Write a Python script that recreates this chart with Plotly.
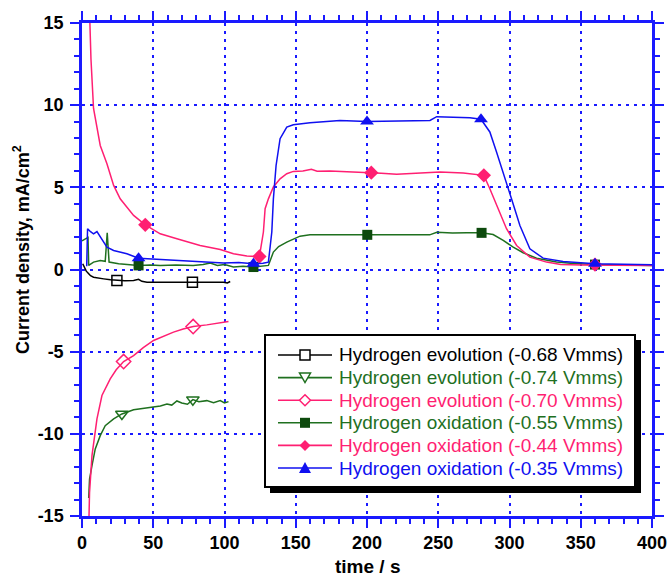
import plotly.graph_objects as go

# ---------------- data ----------------
black_t = [0.5, 1.5, 3, 4.7, 6, 8.1, 11, 15.2, 20, 24.5, 30, 36.2, 39.7, 42, 45.6, 55, 65, 77.5, 88, 99.3, 102, 104]
black_v = [0.35, 0.15, -0.1, -0.26, -0.38, -0.47, -0.53, -0.57, -0.63, -0.67, -0.68, -0.67, -0.6, -0.72, -0.77, -0.78, -0.78, -0.77, -0.79, -0.77, -0.82, -0.73]
black_mt = [24.5, 77.5]
black_mv = [-0.67, -0.77]

gevo_t = [4.7, 5.3, 7, 9.3, 12.8, 16.3, 22.2, 28, 36.2, 43, 50.2, 55, 59.6, 63, 66.6, 70, 74, 77.8, 82, 87.6, 92.3, 97, 100, 102.8]
gevo_v = [-13.9, -12.75, -11.94, -10.92, -10.11, -9.5, -9.09, -8.79, -8.53, -8.45, -8.38, -8.3, -8.18, -8.25, -8.0, -8.12, -8.2, -7.92, -8.05, -7.98, -8.1, -7.98, -8.12, -8.04]
gevo_mt = [28, 77.8]
gevo_mv = [-8.79, -7.92]

pevo_t = [4.4, 4.7, 5.3, 7, 10.5, 14, 19.8, 24, 29.2, 36.2, 43, 50.2, 57, 64.2, 71, 78, 87.6, 95, 102.8]
pevo_v = [-17, -15, -13.56, -11.33, -9.09, -7.67, -6.66, -6.1, -5.6, -5.24, -4.75, -4.32, -4.05, -3.81, -3.62, -3.47, -3.37, -3.25, -3.17]
pevo_mt = [29.2, 78]
pevo_mv = [-5.6, -3.47]

gox_t = [0, 3, 4.2, 4.7, 8.1, 12.8, 16.3, 17.7, 19, 25.7, 32, 39.7, 48, 54.9, 66, 78, 85, 90, 95, 100, 106.3, 113, 120.3, 126,
         130.8, 134.3, 138, 143.7, 148, 153, 160, 181, 200.2, 220, 244, 249, 260, 270, 280.4, 288.5, 295.6, 302.6, 309.6, 319,
         333, 345, 360, 380, 400]
gox_v = [1.75, 1.9, 1.95, 0.25, 0.45, 0.55, 0.5, 2.23, 0.45, 0.35, 0.3, 0.25, 0.28, 0.25, 0.27, 0.25, 0.3, 0.39, 0.25, 0.3, 0.15, 0.2, 0.15, 0.18,
         0.25, 1.06, 1.4, 1.67, 1.85, 2.03, 2.11, 2.11, 2.11, 2.1, 2.11, 2.27, 2.22, 2.24, 2.23, 2.13, 1.77, 1.36, 1.02, 0.69,
         0.45, 0.36, 0.3, 0.27, 0.25]
gox_mt = [39.7, 120.3, 200.2, 280.4, 360]
gox_mv = [0.25, 0.15, 2.11, 2.23, 0.3]

pox_t = [4.5, 5.3, 6.3, 8.1, 12.8, 17.5, 22.2, 26.8, 36.2, 44.4, 54.9, 66.6, 82.9, 97, 106.3, 115.7, 124.5, 127.3, 128.5, 130.8,
         134.3, 139, 143.7, 148.3, 155, 161, 165, 174, 181, 200.2, 210, 220.8, 235, 251.2, 267.5, 282, 286.2, 290.9, 297.9,
         305, 314.3, 326, 336, 350, 360, 380, 400]
pox_v = [18, 15, 12.8, 9.8, 7.55, 6.44, 5.12, 4.3, 3.29, 2.72, 2.17, 1.87, 1.46, 1.22, 0.96, 0.82, 0.79, 2.28, 3.7, 4.3,
         5.02, 5.52, 5.83, 5.97, 6.0, 6.1, 5.98, 5.99, 5.97, 5.89, 5.85, 5.79, 5.86, 5.93, 5.87, 5.73, 4.91, 3.9, 2.48,
         1.46, 0.75, 0.45, 0.3, 0.28, 0.27, 0.25, 0.25]
pox_mt = [44.4, 124.5, 203, 282, 360]
pox_mv = [2.72, 0.79, 5.89, 5.73, 0.3]

blue_t = [3.3, 3.9, 6, 8.1, 10.5, 14, 17.5, 22.2, 31.5, 39.7, 54.9, 78.2, 99.3, 110, 120.3, 127, 130.8, 133.2, 134.3, 136.2,
          139, 143.7, 148.3, 160, 181, 200, 220, 244.2, 248.9, 256, 272.2, 280, 286.2, 290.9, 295.6, 301.4, 307.3, 314.3,
          323.6, 337.6, 360, 380, 400]
blue_v = [0.2, 2.48, 2.3, 2.17, 2.31, 1.87, 1.36, 1.16, 0.96, 0.69, 0.61, 0.51, 0.4, 0.42, 0.35, 0.38, 0.45, 2.28, 4.3, 6.33,
          7.96, 8.67, 8.81, 8.93, 9.07, 9.01, 9.02, 9.07, 9.3, 9.28, 9.23, 9.14, 8.37, 7.15, 5.93, 4.3, 2.68, 1.26,
          0.69, 0.49, 0.35, 0.32, 0.29]
blue_mt = [39.7, 120.3, 200, 280, 360]
blue_mv = [0.69, 0.35, 9.01, 9.14, 0.35]

names = ["Hydrogen evolution (-0.68 Vmms)", "Hydrogen evolution (-0.74 Vmms)", "Hydrogen evolution (-0.70 Vmms)",
         "Hydrogen oxidation (-0.55 Vmms)", "Hydrogen oxidation (-0.44 Vmms)", "Hydrogen oxidation (-0.35 Vmms)"]

x_ticks = [0, 50, 100, 150, 200, 250, 300, 350, 400]
y_ticks = [-15, -10, -5, 0, 5, 10, 15]
y_labels = ["-15", "-10", "-5", "0", "5", "10", "15"]

# ---------------- style ----------------
BLACK = "#000000"
GREEN = "#1f701f"
DKGREEN = "#0d4a0d"
PINK = "#ff1f72"
BLUE = "#1010f0"
AX = "#1a1aff"
FONT = "Arial, Liberation Sans"

series = [
    (black_t, black_v, black_mt, black_mv, BLACK, "square", False, BLACK),
    (gevo_t, gevo_v, gevo_mt, gevo_mv, GREEN, "tri_down", False, GREEN),
    (pevo_t, pevo_v, pevo_mt, pevo_mv, PINK, "diamond", False, PINK),
    (gox_t, gox_v, gox_mt, gox_mv, GREEN, "square", True, DKGREEN),
    (pox_t, pox_v, pox_mt, pox_mv, PINK, "diamond", True, PINK),
    (blue_t, blue_v, blue_mt, blue_mv, BLUE, "tri_up", True, BLUE),
]
plotly_sym = {"square": "square", "tri_down": "triangle-down", "diamond": "diamond", "tri_up": "triangle-up"}
sym_size = {"square": 10, "tri_down": 11, "diamond": 11, "tri_up": 12}

fig = go.Figure()
for (t, v, mt, mv, col, sym, filled, mcol) in series:
    fig.add_trace(go.Scatter(x=t, y=v, mode="lines", line=dict(color=col, width=1.5), showlegend=False, hoverinfo="skip"))
    s = plotly_sym[sym] + ("" if filled else "-open")
    fig.add_trace(go.Scatter(x=mt, y=mv, mode="markers", showlegend=False,
                             marker=dict(symbol=s, size=sym_size[sym], color=mcol,
                                         line=dict(color=mcol, width=0 if filled else 1.5))))

L, R, T, B = 82, 652, 23, 516
W, H = 671, 577
pw, ph = R - L, B - T

def px_x(p):
    return (p - L) / pw

def px_y(p):
    return (B - p) / ph

axis_common = dict(
    showline=True, linecolor=AX, linewidth=2.5, mirror="allticks",
    ticks="outside", ticklen=9, tickwidth=2, tickcolor=AX,
    showgrid=True, gridcolor=AX, gridwidth=2, griddash="3px,5px",
    zeroline=False,
    tickfont=dict(family=FONT, size=18, color="black", weight="bold"),
    minor=dict(ticks="outside", ticklen=5, tickwidth=2, tickcolor=AX, showgrid=False),
)

fig.update_xaxes(range=[0, 400], tickvals=x_ticks, ticktext=[str(v) for v in x_ticks],
                 minor_dtick=10, minor_tick0=0, ticklabelstandoff=0, **axis_common)
fig.update_yaxes(range=[-15, 15], tickvals=y_ticks, ticktext=y_labels,
                 minor_dtick=1, minor_tick0=0, ticklabelstandoff=3, **axis_common)

# ---------------- hand-made legend box (shadow, frame, samples, text) ----------------
LX0, LY0, LX1, LY1 = 265, 335, 635, 487
SH = 5
fig.add_shape(type="rect", xref="paper", yref="paper",
              x0=px_x(LX0 + SH), x1=px_x(LX1 + SH + 1), y0=px_y(LY1 + SH + 1), y1=px_y(LY0 + SH),
              fillcolor="black", line=dict(width=0), layer="above")
fig.add_shape(type="rect", xref="paper", yref="paper",
              x0=px_x(LX0), x1=px_x(LX1), y0=px_y(LY1), y1=px_y(LY0),
              fillcolor="white", line=dict(color="black", width=2), layer="above")

row0, drow = 355, 22.6
sx0, sx1, scx, tx = 278, 332, 305, 338

def path(pts):
    return "M " + " L ".join(f"{px_x(a):.5f},{px_y(b):.5f}" for a, b in pts) + " Z"

for i, ((t, v, mt, mv, col, sym, filled, mcol), name) in enumerate(zip(series, names)):
    cy = row0 + i * drow
    fig.add_shape(type="line", xref="paper", yref="paper", x0=px_x(sx0), x1=px_x(sx1), y0=px_y(cy), y1=px_y(cy),
                  line=dict(color=col, width=1.6), layer="above")
    if sym == "square":
        pts = [(scx - 5, cy - 5), (scx + 5, cy - 5), (scx + 5, cy + 5), (scx - 5, cy + 5)]
    elif sym == "tri_down":
        pts = [(scx - 5.5, cy - 4.5), (scx + 5.5, cy - 4.5), (scx, cy + 5)]
    elif sym == "diamond":
        pts = [(scx, cy - 5.5), (scx + 5.5, cy), (scx, cy + 5.5), (scx - 5.5, cy)]
    else:
        pts = [(scx - 6, cy + 5), (scx + 6, cy + 5), (scx, cy - 6)]
    fig.add_shape(type="path", xref="paper", yref="paper", path=path(pts),
                  fillcolor=mcol if filled else "white", line=dict(color=mcol, width=0 if filled else 1.5),
                  layer="above")
    fig.add_annotation(text=name, xref="paper", yref="paper", x=px_x(tx - 1), y=px_y(cy),
                       xanchor="left", yanchor="middle", showarrow=False,
                       font=dict(family=FONT, size=19, color=col))

fig.add_annotation(text="Current density, mA/cm<sup>2</sup>", xref="paper", yref="paper",
                   x=px_x(21), y=px_y(250), xanchor="center", yanchor="middle", textangle=-90, showarrow=False,
                   font=dict(family=FONT, size=18, color="black", weight="bold"))
fig.add_annotation(text="time / s", xref="paper", yref="paper",
                   x=px_x(367), y=px_y(566), xanchor="center", yanchor="middle", showarrow=False,
                   borderpad=0, font=dict(family=FONT, size=19, color="black", weight="bold"))

fig.update_layout(
    width=W, height=H,
    margin=dict(l=L, r=W - R, t=T, b=H - B, autoexpand=False),
    paper_bgcolor="white", plot_bgcolor="white",
    showlegend=False,
)

fig.write_html("out.html")
